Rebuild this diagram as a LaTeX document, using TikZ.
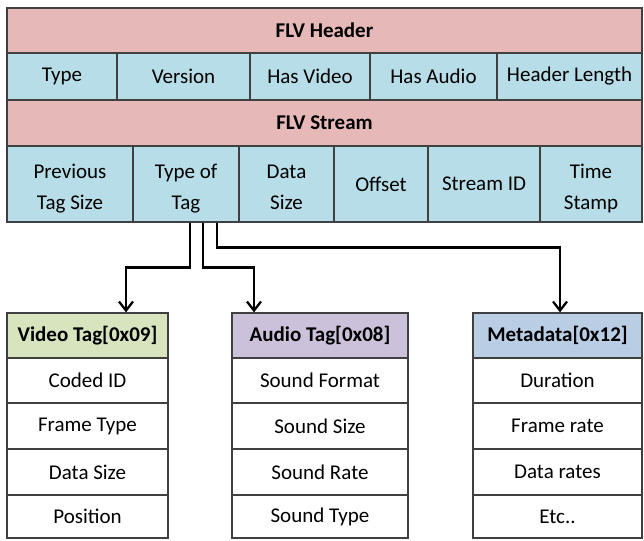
\documentclass[tikz,border=0pt]{standalone}
\usepackage{fontspec}
\setmainfont{Carlito}
\usetikzlibrary{arrows.meta,calc}

\definecolor{hdrpink}{HTML}{E6B9B8}
\definecolor{fieldblue}{HTML}{B7DEE8}
\definecolor{vidgreen}{HTML}{D7E4BD}
\definecolor{audpurple}{HTML}{CCC1DA}
\definecolor{metablue}{HTML}{B9CDE5}
\definecolor{edge}{HTML}{404040}

\tikzset{
  cell/.style={draw=edge, line width=1.2pt, inner sep=0pt, align=center,
    font=\fontsize{21}{31}\selectfont},
  boldcell/.style={cell, font=\fontsize{21}{31}\selectfont\bfseries},
  link/.style={draw=black, line width=2.8pt, -{Straight Barb[length=9pt,width=14pt,line width=2.3pt]}}
}

% \cellbox[style]{name}{x1}{y1}{x2}{y2}{fill}{text}
\newcommand{\cellbox}[8][cell]{%
  \node[#1, fill=#7, minimum width={(#5-#3)*1pt}, minimum height={(#6-#4)*1pt}]
    (#2) at ({(#3+#5)/2},{(#4+#6)/2}) {#8};}
% two stacked lines, set a little low in their cell
\newcommand{\twoline}[2]{\raisebox{-9pt}[0pt][0pt]{\begin{tabular}{@{}c@{}}#1\\#2\end{tabular}}}

\begin{document}
\begin{tikzpicture}[x=1pt,y=-1pt]
\useasboundingbox (0,0) rectangle (644,540);

% FLV header
\cellbox[boldcell]{flvhdr}{7}{8}{642}{53}{hdrpink}{FLV Header}
\cellbox{htype}{7}{53}{117}{100}{fieldblue}{Type}
\cellbox{hver}{117}{53}{250}{100}{fieldblue}{Version}
\cellbox{hvid}{250}{53}{370}{100}{fieldblue}{Has Video}
\cellbox{haud}{370}{53}{497}{100}{fieldblue}{Has Audio}
\cellbox{hlen}{497}{53}{642}{100}{fieldblue}{Header Length}

% FLV stream
\cellbox[boldcell]{flvstr}{7}{100}{642}{146}{hdrpink}{FLV Stream}
\cellbox{sprev}{7}{146}{133}{222}{fieldblue}{\twoline{Previous}{Tag Size}}
\cellbox{ttag}{133}{146}{239}{222}{fieldblue}{\twoline{Type of}{Tag}}
\cellbox{sdata}{239}{146}{334}{222}{fieldblue}{\twoline{Data}{Size}}
\cellbox{soff}{334}{146}{428}{222}{fieldblue}{Offset}
\cellbox{sid}{428}{146}{540}{222}{fieldblue}{Stream ID}
\cellbox{stime}{540}{146}{642}{222}{fieldblue}{\twoline{Time}{Stamp}}

% Video tag
\cellbox[boldcell]{vtag}{7}{313}{168}{358}{vidgreen}{Video Tag[0x09]}
\cellbox{v1}{7}{358}{168}{403}{white}{Coded ID}
\cellbox{v2}{7}{403}{168}{449}{white}{Frame Type}
\cellbox{v3}{7}{449}{168}{495}{white}{Data Size}
\cellbox{v4}{7}{495}{168}{538}{white}{Position}

% Audio tag
\cellbox[boldcell]{atag}{232}{313}{408}{358}{audpurple}{Audio Tag[0x08]}
\cellbox{a1}{232}{358}{408}{403}{white}{Sound Format}
\cellbox{a2}{232}{403}{408}{449}{white}{Sound Size}
\cellbox{a3}{232}{449}{408}{495}{white}{Sound Rate}
\cellbox{a4}{232}{495}{408}{538}{white}{Sound Type}

% Metadata
\cellbox[boldcell]{mtag}{473}{313}{642}{358}{metablue}{Metadata[0x12]}
\cellbox{m1}{473}{358}{642}{403}{white}{Duration}
\cellbox{m2}{473}{403}{642}{449}{white}{Frame rate}
\cellbox{m3}{473}{449}{642}{495}{white}{Data rates}
\cellbox{m4}{473}{495}{642}{538}{white}{Etc..}

% Connectors from the tag type field
\draw[link] ([xshift=4pt]ttag.south) -- ++(0,45) -| ([xshift=38.5pt]vtag.north);
\draw[link] ([xshift=17pt]ttag.south) -- ++(0,45) -| ([xshift=-66pt]atag.north);
\draw[link] ([xshift=31pt]ttag.south) -- ++(0,25) -| ([xshift=2.5pt]mtag.north);
\end{tikzpicture}
\end{document}
